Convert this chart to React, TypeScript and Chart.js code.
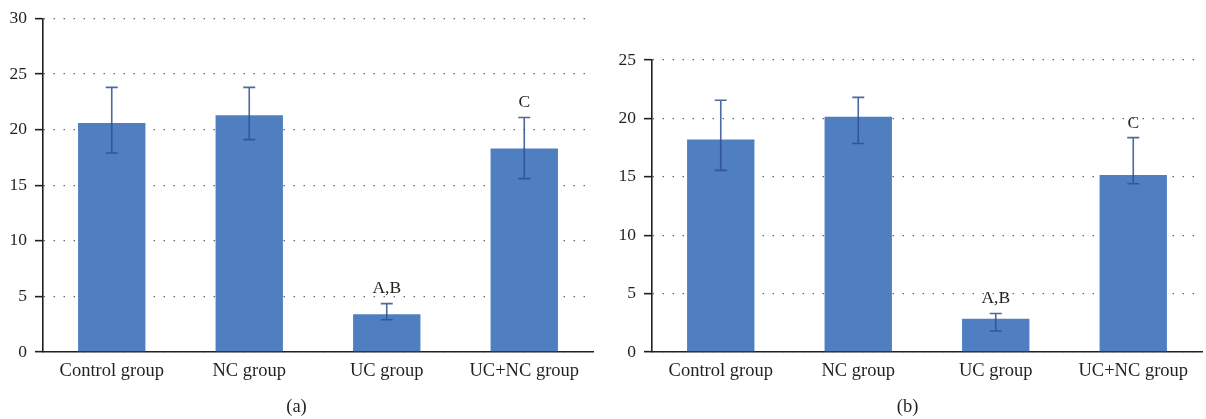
import React, { useEffect, useRef } from 'react';
import { Chart, registerables } from 'chart.js';

Chart.register(...registerables);

const categories = ['Control group', 'NC group', 'UC group', 'UC+NC group'];
const annotations = ['', '', 'A,B', 'C'];

const valuesA = [20.6, 21.3, 3.4, 18.3];
const errLowA = [17.9, 19.1, 2.9, 15.6];
const errHighA = [23.8, 23.8, 4.35, 21.1];
const yMaxA = 30;

const valuesB = [18.2, 20.15, 2.85, 15.15];
const errLowB = [15.55, 17.85, 1.8, 14.4];
const errHighB = [21.55, 21.8, 3.3, 18.35];
const yMaxB = 25;

const yStep = 5;

const FONT = "'Liberation Serif', 'DejaVu Serif', serif";
const TEXT = '#231f20';
const BAR = '#4f7fc0';
const ERR = 'rgba(44, 80, 145, 0.85)';

const errorBarPlugin = {
  id: 'errorBars',
  afterDatasetsDraw(chart: any, _args: any, opts: any) {
    const { ctx } = chart;
    const meta = chart.getDatasetMeta(0);
    const y = chart.scales.y;
    ctx.save();
    meta.data.forEach((bar: any, i: number) => {
      const x = bar.x;
      const yHi = y.getPixelForValue(opts.high[i]);
      const yLo = y.getPixelForValue(opts.low[i]);
      const cap = 6;
      ctx.strokeStyle = ERR;
      ctx.lineWidth = 1.6;
      ctx.beginPath();
      ctx.moveTo(x, yHi);
      ctx.lineTo(x, yLo);
      ctx.moveTo(x - cap, yHi);
      ctx.lineTo(x + cap, yHi);
      ctx.moveTo(x - cap, yLo);
      ctx.lineTo(x + cap, yLo);
      ctx.stroke();
      const label = opts.labels[i];
      if (label) {
        ctx.fillStyle = TEXT;
        ctx.font = `17.5px ${FONT}`;
        ctx.textAlign = 'center';
        ctx.textBaseline = 'bottom';
        ctx.fillText(label, x, yHi - 6);
      }
    });
    ctx.restore();
  },
};

type PanelProps = {
  values: number[];
  low: number[];
  high: number[];
  yMax: number;
  caption: string;
  left: number;
  width: number;
  axisWidth: number;
  padTop: number;
  padRight: number;
};

function Panel(p: PanelProps) {
  const ref = useRef<HTMLCanvasElement>(null);
  useEffect(() => {
    if (!ref.current) return;
    const chart = new Chart(ref.current, {
      type: 'bar',
      data: {
        labels: categories,
        datasets: [
          {
            data: p.values,
            backgroundColor: BAR,
            borderWidth: 0,
            categoryPercentage: 1,
            barPercentage: 0.49,
          },
        ],
      },
      plugins: [errorBarPlugin],
      options: {
        responsive: false,
        animation: false,
        devicePixelRatio: 1,
        layout: { padding: { top: p.padTop, right: p.padRight, left: 0, bottom: 0 } },
        plugins: {
          legend: { display: false },
          tooltip: { enabled: false },
          title: {
            display: true,
            text: p.caption,
            position: 'bottom',
            color: TEXT,
            font: { family: FONT, size: 18.5, weight: 'normal' },
            padding: { top: 0, bottom: 1 },
          },
          errorBars: { low: p.low, high: p.high, labels: annotations },
        } as any,
        scales: {
          x: {
            afterFit: (s: any) => {
              s.height = 43.8;
            },
            grid: { display: true, drawOnChartArea: false, drawTicks: false },
            border: { display: true, color: '#231f20', width: 1.6 },
            ticks: { color: TEXT, font: { family: FONT, size: 18.5 }, padding: 8 },
          },
          y: {
            min: 0,
            max: p.yMax,
            afterFit: (s: any) => {
              s.width = p.axisWidth;
            },
            ticks: { stepSize: yStep, color: TEXT, font: { family: FONT, size: 17.5 }, padding: 8 },
            grid: {
              color: '#555',
              lineWidth: 1.3,
              tickLength: 8,
              tickColor: '#231f20',
              tickWidth: 1.6,
              tickBorderDash: [],
            },
            border: { display: true, color: '#231f20', width: 1.6, dash: [1.3, 8.7] },
          },
        },
      } as any,
    });
    return () => chart.destroy();
  }, []);
  return (
    <canvas
      ref={ref}
      width={p.width}
      height={419}
      style={{ position: 'absolute', left: p.left, top: 0, width: p.width, height: 419 }}
    />
  );
}

export default function App() {
  return (
    <div style={{ position: 'absolute', left: 0, top: 0, width: 1206, height: 419, background: '#fff' }}>
      <Panel values={valuesA} low={errLowA} high={errHighA} yMax={yMaxA} caption="(a)" left={0} width={606} axisWidth={43} padTop={14} padRight={13} />
      <Panel values={valuesB} low={errLowB} high={errHighB} yMax={yMaxB} caption="(b)" left={613} width={593} axisWidth={39} padTop={60} padRight={4} />
    </div>
  );
}
